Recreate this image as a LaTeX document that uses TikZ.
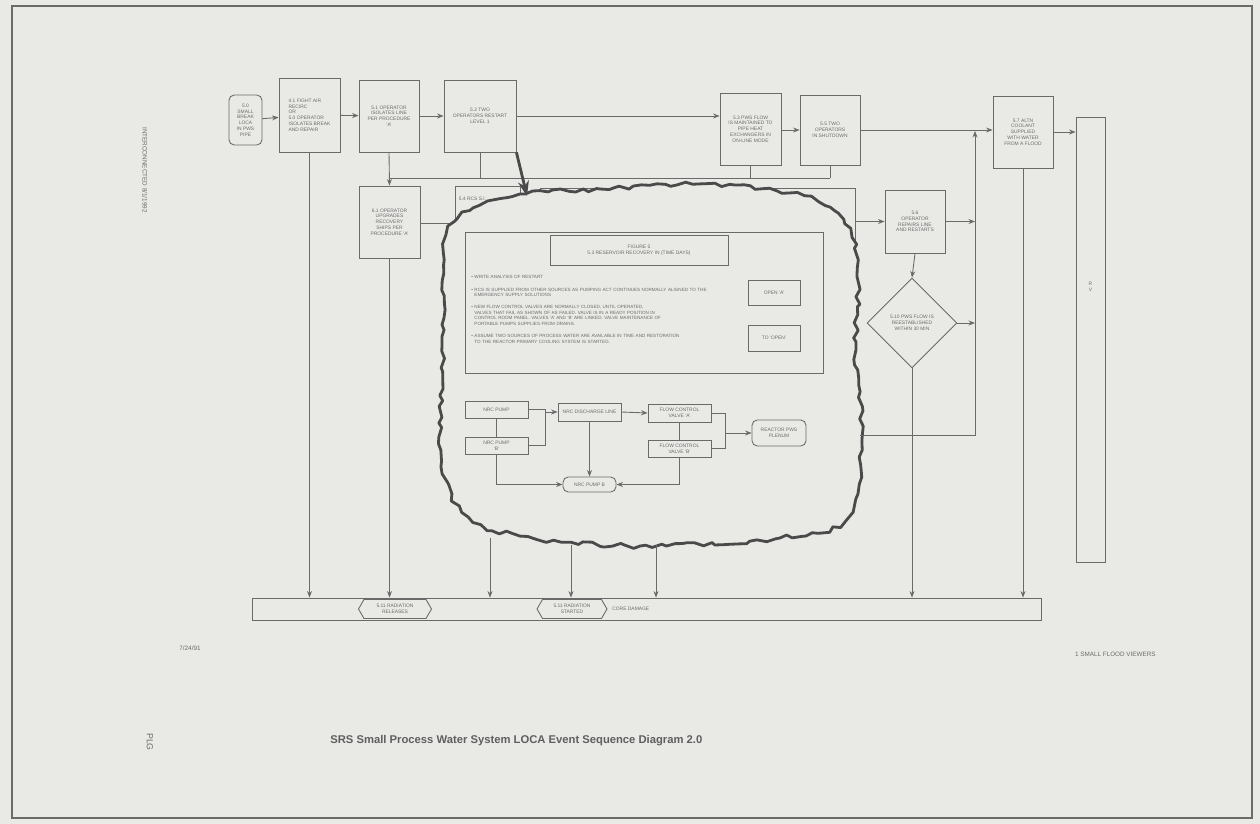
\documentclass[tikz,border=0pt]{standalone}
\usepackage{fontspec}
\setmainfont{Liberation Sans}
\usetikzlibrary{arrows.meta,shapes.geometric,shapes.symbols,decorations.pathmorphing}
\definecolor{paper}{HTML}{E9E9E6}
\definecolor{ink}{HTML}{6A6A6A}
\definecolor{cloudink}{HTML}{4A4A4A}
\tikzset{
  ebox/.style={draw=ink,fill=paper,line width=0.5pt,align=center,inner sep=1pt,text=ink,font=\fontsize{2.8}{3.3}\selectfont},
  eround/.style={ebox,rounded corners=3pt},
  ediam/.style={ebox,diamond,aspect=1,inner sep=0pt},
  etag/.style={ebox,signal,signal to=west and east,signal pointer angle=120},
  etext/.style={text=ink,inner sep=0pt,font=\fontsize{2.8}{3.3}\selectfont},
  earr/.style={-{Stealth[length=1.3mm,width=1mm]},line width=0.5pt,draw=ink},
  eline/.style={line width=0.5pt,draw=ink},
  ecloud/.style={draw=cloudink,fill=paper,line width=1.6pt,line join=round,decorate,decoration={random steps,segment length=4pt,amplitude=1.4pt}}
}
\begin{document}
\begin{tikzpicture}[x=0.02cm,y=-0.02cm]
  \pgfmathsetseed{11}
  \useasboundingbox (0,0) rectangle (1260,824);
  \fill[paper] (0,0) rectangle (1260,824);
  \draw[ink,line width=0.6pt] (12,6) rectangle (1252,818);
  % top row
  \node[eround,minimum width=0.66cm,minimum height=1.0cm] (n0) at (245.5,120) {5.0\\SMALL\\BREAK\\LOCA\\IN PWS\\PIPE};
  \node[ebox,minimum width=1.22cm,minimum height=1.48cm,align=left] (n1) at (309.5,115) {4.1 FIGHT AIR\\RECIRC\\OR\\5.0 OPERATOR\\ISOLATES BREAK\\AND REPAIR};
  \node[ebox,minimum width=1.2cm,minimum height=1.44cm] (n2) at (389,116) {5.1 OPERATOR\\ISOLATES LINE\\PER PROCEDURE\\`A'};
  \node[ebox,minimum width=1.44cm,minimum height=1.44cm] (n3) at (480,116) {5.2 TWO\\OPERATORS RESTART\\LEVEL 1};
  \node[ebox,minimum width=1.22cm,minimum height=1.44cm] (n4) at (750.5,129) {5.3 PWS FLOW\\IS MAINTAINED TO\\PIPE HEAT\\EXCHANGERS IN\\ON-LINE MODE};
  \node[ebox,minimum width=1.2cm,minimum height=1.4cm] (n5) at (830,130) {5.5 TWO\\OPERATORS\\IN SHUTDOWN};
  \node[ebox,minimum width=1.2cm,minimum height=1.44cm] (n6) at (1023,132) {5.7 ALTN\\COOLANT\\SUPPLIED\\WITH WATER\\FROM A FLOOD};
  \node[ebox,minimum width=0.58cm,minimum height=8.9cm,label={[etext,align=center,yshift=1.05cm]center:R\\V}] (tall) at (1090.5,339.5) {};
  % second row
  \node[ebox,minimum width=1.22cm,minimum height=1.44cm] (n7) at (389.5,222) {6.1 OPERATOR\\UPGRADES\\RECOVERY\\SHIPS PER\\PROCEDURE `A'};
  \node[ebox,anchor=north west,minimum width=1.3cm,minimum height=1.4cm,label={[etext,anchor=north west,xshift=2pt,yshift=-6pt]north west:5.4 RCS S.I.}] (n8) at (455,186) {};
  \node[ebox,anchor=north west,minimum width=6.3cm,minimum height=1.45cm] (n9) at (540,188) {};
  \node[ebox,minimum width=1.2cm,minimum height=1.26cm] (n10) at (915,221.5) {5.6\\OPERATOR\\REPAIRS LINE\\AND RESTARTS};
  \node[ediam,minimum width=1.8cm,minimum height=1.8cm] (n11) at (912,323) {5.10 PWS FLOW IS\\REESTABLISHED\\WITHIN 30 MIN};
  % bus
  \node[ebox,minimum width=15.8cm,minimum height=0.44cm] (bus) at (647,609) {};
  \node[etag,minimum width=1.46cm,minimum height=0.38cm] (t1) at (395,609) {5.11 RADIATION\\RELEASES};
  \node[etag,minimum width=1.4cm,minimum height=0.38cm] (t2) at (572,609) {5.11 RADIATION\\STARTED};
  \node[etext,anchor=west] (t3) at (612,609) {CORE DAMAGE};
  % junctions
  \coordinate (hl) at (389,178);
  \coordinate (hr) at (830,178);
  \coordinate (j1) at (975,131);
  \coordinate (j2) at (975,435);
  \coordinate (cl) at (860,435);
  \coordinate (cw) at (450,223);
  % top row connectors
  \draw[earr] (n0) -- (n1);
  \draw[earr] (n1) -- (n2);
  \draw[earr] (n2) -- (n3);
  \draw[earr] (n3.east) -- (n4.west |- n3.east);
  \draw[earr] (n4.east |- n5.west) -- (n5.west);
  \draw[earr] (n5.east) -- (n6.west |- n5.east);
  \draw[earr] (n6.east) -- (n6.east -| tall.west);
  \draw[eline] (hl) -- (hr);
  \draw[eline] (n3.south) -- (n3.south |- hl);
  \draw[eline] (n4.south) -- (n4.south |- hl);
  \draw[eline] (n5.south) -- (hr);
  \draw[earr] (n2.south) -- (n7.north);
  \draw[eline] (n7.east |- cw) -- (cw);
  % right side
  \draw[earr] (n9.east |- n10.west) -- (n10.west);
  \draw[earr] (n10.east) -- (n10.east -| j1);
  \draw[earr] (n10.south) -- (n11.north);
  \draw[earr] (n11.east) -- (n11.east -| j1);
  % cloud
  \draw[ecloud] plot[smooth cycle,tension=0.6] coordinates {(446,235) (480,205) (525,194) (600,189) (700,184) (790,193) (838,213) (858,260) (856,350) (862,450) (845,520) (780,538) (640,546) (520,536) (462,512) (441,450) (444,330)};
  \draw[-{Stealth[length=3mm,width=2.2mm]},line width=1.6pt,draw=cloudink] (n3.south east) -- (527,196);
  \coordinate (c1) at (490,538);
  \coordinate (c2) at (571,545);
  \coordinate (c3) at (656,545);
  \draw[earr] (cl) -- (j2) -- (j1);
  % bus connectors
  \draw[earr] (n1.south) -- (n1.south |- bus.north);
  \draw[earr] (n7.south) -- (n7.south |- bus.north);
  \draw[earr] (c1) -- (c1 |- bus.north);
  \draw[earr] (c2) -- (c2 |- bus.north);
  \draw[earr] (c3) -- (c3 |- bus.north);
  \draw[earr] (n11.south) -- (n11.south |- bus.north);
  \draw[earr] (n6.south) -- (n6.south |- bus.north);
  % inside the cloud
  \node[ebox,minimum width=7.16cm,minimum height=2.82cm] (inner) at (644,303) {};
  \node[ebox,minimum width=3.56cm,minimum height=0.6cm] (ihead) at (639,250) {FIGURE 5\\5.3 RESERVOIR RECOVERY IN (TIME DAYS)};
  \node[etext,anchor=north west,text width=6.1cm,align=left,font=\fontsize{2.6}{3.1}\selectfont] (inotes) at (471,275) {%
    \textbullet\ WRITE ANALYSIS OF RESTART\\[4pt]
    \textbullet\ RCS IS SUPPLIED FROM OTHER SOURCES AS PUMPING ACT CONTINUES NORMALLY ALIGNED TO THE\\\hphantom{\textbullet\ }EMERGENCY SUPPLY SOLUTIONS\\[4pt]
    \textbullet\ NEW FLOW CONTROL VALVES ARE NORMALLY CLOSED, UNTIL OPERATED,\\\hphantom{\textbullet\ }VALVES THAT FAIL AS SHOWN OF AS FAILED. VALVE IS IN A READY POSITION IN\\\hphantom{\textbullet\ }CONTROL ROOM PANEL. VALVES `A' AND `B' ARE LINKED. VALVE MAINTENANCE OF\\\hphantom{\textbullet\ }PORTABLE PUMPS SUPPLIES FROM DRAINS.\\[4pt]
    \textbullet\ ASSUME TWO SOURCES OF PROCESS WATER ARE AVAILABLE IN TIME AND RESTORATION\\\hphantom{\textbullet\ }TO THE REACTOR PRIMARY COOLING SYSTEM IS STARTED.};
  \node[ebox,minimum width=1.04cm,minimum height=0.5cm] (iopen) at (774,293) {OPEN `A'};
  \node[ebox,minimum width=1.04cm,minimum height=0.52cm] (iclose) at (774,338) {TO `OPEN'};
  \node[ebox,minimum width=1.26cm,minimum height=0.34cm] (fa) at (496.5,409.5) {NRC PUMP};
  \node[ebox,minimum width=1.26cm,minimum height=0.34cm] (fb) at (496.5,445.5) {NRC PUMP\\`B'};
  \node[ebox,minimum width=1.26cm,minimum height=0.36cm] (fc) at (589.5,412) {NRC DISCHARGE LINE};
  \node[ebox,minimum width=1.26cm,minimum height=0.36cm] (fd) at (679.5,413) {FLOW CONTROL\\VALVE `A'};
  \node[ebox,minimum width=1.26cm,minimum height=0.34cm] (fe) at (679.5,448.5) {FLOW CONTROL\\VALVE `B'};
  \node[eround,minimum width=1.08cm,minimum height=0.52cm] (ff) at (779,433) {REACTOR PWS\\PLENUM};
  \node[eround,minimum width=1.06cm,minimum height=0.3cm] (fg) at (589.5,484.5) {NRC PUMP B};
  \coordinate (fj) at (545,412);
  \coordinate (fk) at (725,433);
  \draw[eline] (fa.east) -| (fj);
  \draw[eline] (fb.east) -| (fj);
  \draw[earr] (fj) -- (fc.west);
  \draw[eline] (fa.south) -- (fb.north);
  \draw[earr] (fc.east) -- (fd.west);
  \draw[earr] (fc.south) -- (fg.north);
  \draw[earr] (fb.south) |- (fg.west);
  \draw[earr] (fe.south) |- (fg.east);
  \draw[eline] (fd.south) -- (fe.north);
  \draw[eline] (fd.east) -| (fk);
  \draw[eline] (fe.east) -| (fk);
  \draw[earr] (fk) -- (ff.west);
  % page notes
  \node[etext,rotate=-90,font=\fontsize{3.6}{4.2}\selectfont] (side) at (145,170) {INTERCONNECTED 8/1/1992};
  \node[etext,font=\fontsize{3.6}{4.2}\selectfont] (date) at (190,648) {7/24/91};
  \node[etext,font=\fontsize{3.6}{4.2}\selectfont,anchor=east] (flood) at (1156,654) {1 SMALL FLOOD VIEWERS};
  \node[etext,rotate=-90,font=\fontsize{5}{6}\selectfont] (plg) at (150,742) {PLG};
  \node[text=ink!90!black,inner sep=0pt,font=\fontsize{6.4}{7.5}\selectfont\bfseries,anchor=west] (title) at (330,741) {SRS Small Process Water System LOCA Event Sequence Diagram 2.0};
\end{tikzpicture}
\end{document}
